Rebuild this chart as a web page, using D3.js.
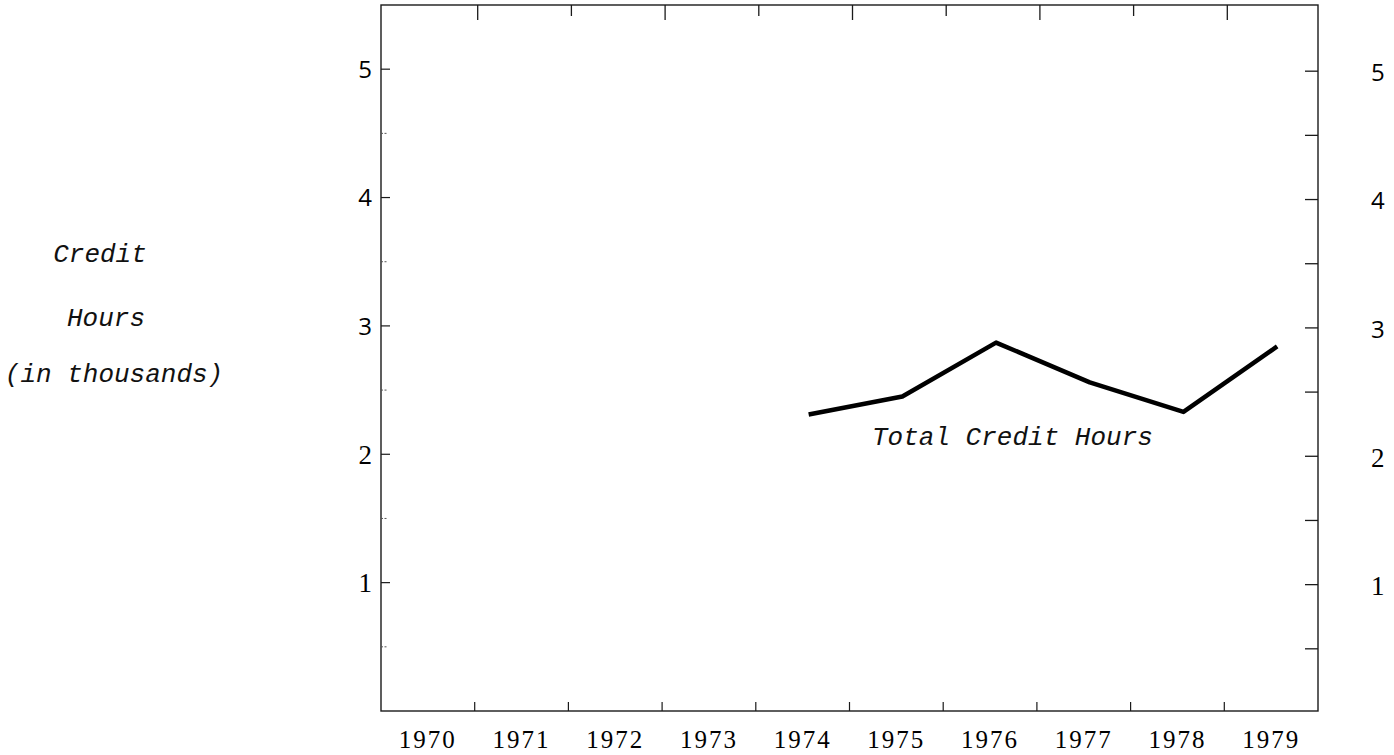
<!DOCTYPE html>
<html>
<head>
<meta charset="utf-8">
<script src="https://cdn.jsdelivr.net/npm/d3@7/dist/d3.min.js"></script>
<style>
  html, body { margin: 0; padding: 0; background: #fff; }
  svg { display: block; }
  .typed { font-family: "Liberation Mono", "Courier New", monospace; font-style: italic; fill: #111; }
</style>
</head>
<body>
<svg id="chart" width="1394" height="755"></svg>
<script>
// Academic years on the horizontal axis
const years = [1970, 1971, 1972, 1973, 1974, 1975, 1976, 1977, 1978, 1979];
// Total credit hours (thousands), reported from 1974 onward
const creditYears = [1974, 1975, 1976, 1977, 1978, 1979];
const creditHours = [2.31, 2.45, 2.87, 2.56, 2.33, 2.84];
// Vertical axis ticks (thousands)
const majorTicks = [1, 2, 3, 4, 5];
const minorTicks = [0.5, 1.5, 2.5, 3.5, 4.5];
const axisTitle = ["Credit", "Hours", "(in thousands)"];
const seriesLabel = "Total Credit Hours";

const svg = d3.select("#chart");
const frame = { left: 381, right: 1318, top: 5, bottom: 711 };

const x = d3.scaleBand().domain(years).range([frame.left, frame.right]).padding(0);
const y = d3.scaleLinear().domain([0, 5.5]).range([frame.bottom, frame.top]);

const ink = "#1a1a1a";

// Plot frame
svg.append("rect")
  .attr("x", frame.left).attr("y", frame.top)
  .attr("width", frame.right - frame.left).attr("height", frame.bottom - frame.top)
  .attr("fill", "none").attr("stroke", ink).attr("stroke-width", 1.4);

// Year boundaries: tick marks on top and bottom edges
const boundaries = years.slice(1).map(d => x(d));
svg.append("g").selectAll("line").data(boundaries).join("line")
  .attr("x1", d => d).attr("x2", d => d)
  .attr("y1", frame.bottom).attr("y2", frame.bottom - 9)
  .attr("stroke", ink).attr("stroke-width", 1.2);
svg.append("g").selectAll("line").data(boundaries).join("line")
  .attr("x1", d => d + 3).attr("x2", d => d + 3)
  .attr("y1", frame.top).attr("y2", (d, i) => frame.top + (i % 2 ? 11 : 15))
  .attr("stroke", ink).attr("stroke-width", 1.3);

// Year labels centred in each band
svg.append("g").selectAll("text").data(years).join("text")
  .attr("x", d => x(d) + x.bandwidth() / 2)
  .attr("y", 748)
  .attr("text-anchor", "middle")
  .attr("font-family", "'Liberation Serif', 'Times New Roman', serif")
  .attr("font-size", 25)
  .attr("letter-spacing", 2)
  .attr("fill", "#000")
  .text(d => d);

// Left axis ticks (pointing inward)
svg.append("g").selectAll("line").data(majorTicks).join("line")
  .attr("x1", frame.left).attr("x2", frame.left + 9)
  .attr("y1", d => y(d)).attr("y2", d => y(d))
  .attr("stroke", ink).attr("stroke-width", 1.2);
svg.append("g").selectAll("line").data(minorTicks).join("line")
  .attr("x1", frame.left).attr("x2", frame.left + 7)
  .attr("y1", d => y(d)).attr("y2", d => y(d))
  .attr("stroke", "#555").attr("stroke-width", 1)
  .attr("stroke-dasharray", "2,1.5");

// Right axis ticks (pointing inward)
svg.append("g").selectAll("line").data(majorTicks.concat(minorTicks)).join("line")
  .attr("x1", frame.right).attr("x2", frame.right - 13)
  .attr("y1", d => y(d) + 2).attr("y2", d => y(d) + 2)
  .attr("stroke", ink).attr("stroke-width", 1.3);

const tickFont = d => d <= 2
  ? "'Liberation Serif', 'Times New Roman', serif"
  : "'Open Sans', 'Liberation Sans', sans-serif";
const tickSize = d => d <= 2 ? 27 : 24;

// Left and right tick labels
svg.append("g").selectAll("text").data(majorTicks).join("text")
  .attr("x", frame.left - 9)
  .attr("y", d => y(d))
  .attr("dy", "0.36em")
  .attr("text-anchor", "end")
  .attr("font-family", tickFont)
  .attr("font-size", tickSize)
  .attr("fill", "#000")
  .text(d => d);
svg.append("g").selectAll("text").data(majorTicks).join("text")
  .attr("x", frame.right + 53)
  .attr("y", d => y(d) + 3)
  .attr("dy", "0.36em")
  .attr("text-anchor", "start")
  .attr("font-family", tickFont)
  .attr("font-size", tickSize)
  .attr("fill", "#000")
  .text(d => d);

// Vertical axis title
svg.append("g").selectAll("text").data(axisTitle).join("text")
  .attr("class", "typed")
  .attr("x", (d, i) => [100, 106, 114][i])
  .attr("y", (d, i) => [262, 326, 382][i])
  .attr("text-anchor", "middle")
  .attr("font-size", 26)
  .text(d => d);

// Credit hours line
const line = d3.line()
  .x(d => x(d.year) + x.bandwidth() / 2 + 6)
  .y(d => y(d.value));
const series = creditYears.map((yr, i) => ({ year: yr, value: creditHours[i] }));
svg.append("path")
  .datum(series)
  .attr("d", line)
  .attr("fill", "none")
  .attr("stroke", "#000")
  .attr("stroke-width", 4.5)
  .attr("stroke-linejoin", "round");

// Series label
svg.append("text")
  .attr("class", "typed")
  .attr("x", 872)
  .attr("y", 445)
  .attr("font-size", 26)
  .text(seriesLabel);
</script>
</body>
</html>
